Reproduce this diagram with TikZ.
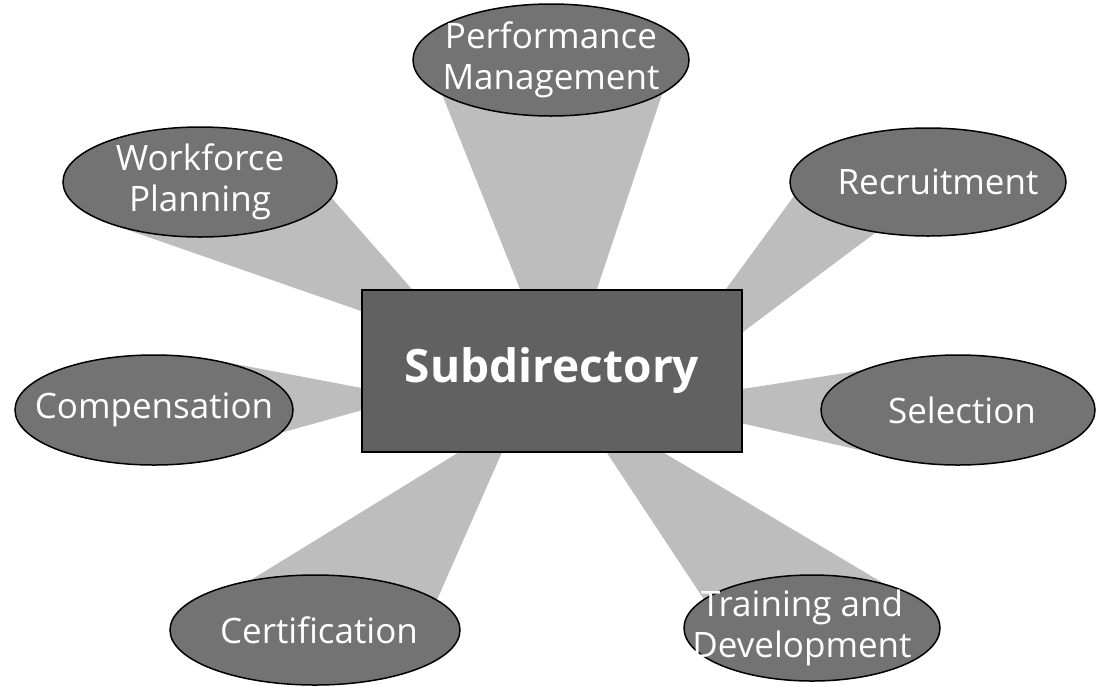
\documentclass[tikz,border=0pt]{standalone}
\usepackage{fontspec}
\setmainfont{Open Sans}
\usetikzlibrary{shapes.geometric,calc}
\pgfdeclarelayer{bg}
\pgfsetlayers{bg,main}

\tikzset{
    bubble/.style={ellipse, draw=black, line width=1.5pt, fill=black!55,
        inner sep=0pt, minimum width=274pt, minimum height=110pt},
    bubbletext/.style={text=white, align=center,
        font=\fontsize{35}{41}\selectfont},
    hub/.style={rectangle, draw=black, line width=2pt, fill=black!62,
        minimum width=380pt, minimum height=162pt, text=white,
        font=\fontsize{46}{52}\selectfont\bfseries},
    beamfill/.style={fill=black!26}
}

\begin{document}
\begin{tikzpicture}[x=1pt, y=-1pt]
    \useasboundingbox (0, 0) rectangle (1102, 686);

    \node[hub] (sub) at (552, 371) {Subdirectory};

    \node[bubble, minimum width=276pt, minimum height=112pt] (perf) at (551, 60) {};
    \node[bubble] (work) at (200, 182) {};
    \node[bubble, minimum width=276pt, minimum height=108pt] (recr) at (928, 182) {};
    \node[bubble, minimum width=278pt] (comp) at (154, 410) {};
    \node[bubble] (sele) at (958, 410) {};
    \node[bubble, minimum width=290pt] (cert) at (315, 630) {};
    \node[bubble, minimum width=256pt, minimum height=106pt] (trai) at (812, 628) {};

    \node[bubbletext] (perftext) at (perf) {Performance\\Management};
    \node[bubbletext] (worktext) at (work) {Workforce\\Planning};
    \node[bubbletext] (recrtext) at (938, 182) {Recruitment};
    \node[bubbletext] (comptext) at (comp) {Compensation};
    \node[bubbletext] (seletext) at (962, 410) {Selection};
    \node[bubbletext] (certtext) at (319, 630) {Certification};
    \node[bubbletext] (traitext) at (802, 628) {Training and\\Development};

    % where the beams meet, under the box
    \coordinate (perfapex) at ($(sub)+(10, 23)$);
    \coordinate (workapex) at ($(sub)+(-90, -25)$);
    \coordinate (recrapex) at ($(sub)+(84, 41)$);
    \coordinate (compapex) at ($(sub)+(-143, 26)$);
    \coordinate (seleapex) at ($(sub)+(100, 32)$);
    \coordinate (certapex) at ($(sub)+(-34, 45)$);
    \coordinate (traiapex) at ($(sub)+(18, 26)$);

    \begin{pgfonlayer}{bg}
        \fill[beamfill] (perfapex) -- (perf.198) -- (perf.343) -- cycle;
        \fill[beamfill] (workapex) -- (work.201) -- (work.353) -- cycle;
        \fill[beamfill] (recrapex) -- (recr.186) -- (recr.224) -- cycle;
        \fill[beamfill] (compapex) -- (comp.48) -- (comp.350) -- cycle;
        \fill[beamfill] (seleapex) -- (sele.158) -- (sele.204) -- cycle;
        \fill[beamfill] (certapex) -- (cert.142) -- (cert.14) -- cycle;
        \fill[beamfill] (traiapex) -- (trai.165) -- (trai.32) -- cycle;
    \end{pgfonlayer}
\end{tikzpicture}
\end{document}
